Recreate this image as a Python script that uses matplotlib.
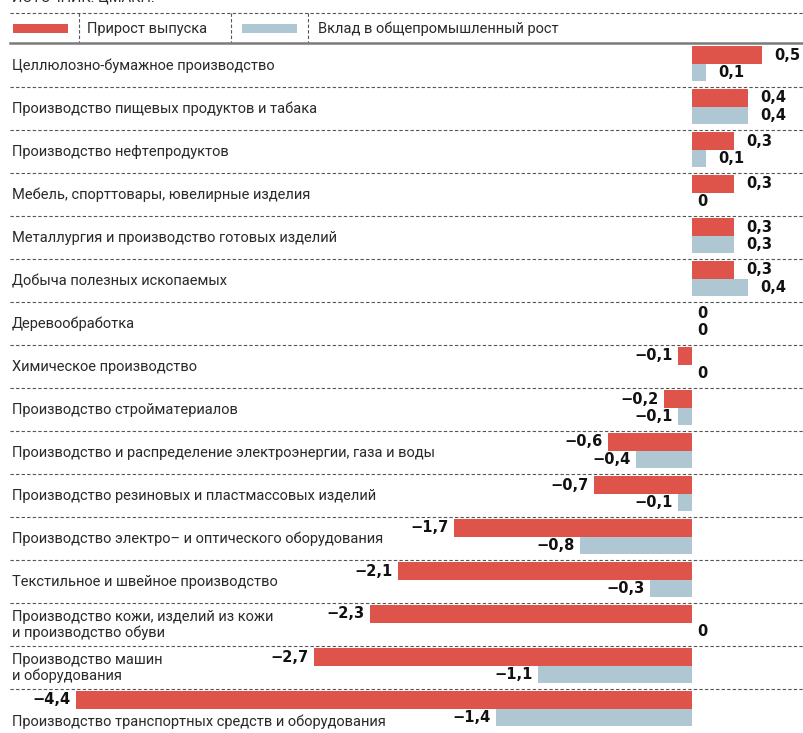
import matplotlib
matplotlib.use("Agg")
import matplotlib.pyplot as plt

# Data
categories = [
    "Целлюлозно-бумажное производство",
    "Производство пищевых продуктов и табака",
    "Производство нефтепродуктов",
    "Мебель, спорттовары, ювелирные изделия",
    "Металлургия и производство готовых изделий",
    "Добыча полезных ископаемых",
    "Деревообработка",
    "Химическое производство",
    "Производство стройматериалов",
    "Производство и распределение электроэнергии, газа и воды",
    "Производство резиновых и пластмассовых изделий",
    "Производство электро– и оптического оборудования",
    "Текстильное и швейное производство",
    "Производство кожи, изделий из кожи\nи производство обуви",
    "Производство машин\nи оборудования",
    "Производство транспортных средств и оборудования",
]
growth = [0.5, 0.4, 0.3, 0.3, 0.3, 0.3, 0, -0.1, -0.2, -0.6, -0.7, -1.7, -2.1, -2.3, -2.7, -4.4]
contrib = [0.1, 0.4, 0.1, 0, 0.3, 0.4, 0, 0, -0.1, -0.4, -0.1, -0.8, -0.3, 0, -1.1, -1.4]
legend_labels = ["Прирост выпуска", "Вклад в общепромышленный рост"]
source = "ИСТОЧНИК: ЦМАКП."

RED = "#df544a"
BLUE = "#afc6d3"
TXT = "#2a2a2a"
W, H = 804, 733
X0 = 692          # pixel position of zero
PPU = 140         # pixels per unit

plt.rcParams["font.family"] = ["Roboto", "DejaVu Sans"]

fig = plt.figure(figsize=(W / 100, H / 100), dpi=100)
ax = fig.add_axes([0, 0, 1, 1])
ax.set_xlim(-X0 / PPU, (W - X0) / PPU)
ax.set_ylim(H, 0)
ax.axis("off")


def fmt(v):
    if v == 0:
        return "0"
    s = f"{abs(v):.1f}".replace(".", ",")
    return ("−" if v < 0 else "") + s


def px(x):
    # pixel x -> data x
    return (x - X0) / PPU


# source line (cut off at top, as in the original)
ax.text(px(12), 5, source, fontsize=10.5, color=TXT, va="bottom", ha="left")

# legend
ax.plot([px(10), px(W)], [13, 13], color="#555555", lw=0.8, ls=(0, (3, 2)))
ax.plot([px(10), px(W)], [42.5, 42.5], color="#7a7a7a", lw=1.8)
for xv in (79, 231, 308):
    ax.plot([px(xv), px(xv)], [13, 42], color="#555555", lw=0.8, ls=(0, (3, 2)))
ax.add_patch(plt.Rectangle((px(13), 24), 55 / PPU, 9, color=RED, lw=0))
ax.add_patch(plt.Rectangle((px(242), 24), 55 / PPU, 9, color=BLUE, lw=0))
ax.text(px(87), 29, legend_labels[0], fontsize=10.5, color=TXT, va="center")
ax.text(px(318), 29, legend_labels[1], fontsize=10.5, color=TXT, va="center")

row_h = 43
bar_h = 17.5
vfont = dict(fontsize=10.5, fontweight="heavy", family="DejaVu Sans", color="#111111", va="center")

for i, (name, g, c) in enumerate(zip(categories, growth, contrib)):
    top = 45 + row_h * i
    yr = top + 10
    yb = top + 27.5
    if i > 0:
        ax.plot([px(10), px(W)], [top - 1, top - 1], color="#555555", lw=0.8, ls=(0, (3, 2)))
    ax.barh(yr, g, height=bar_h, left=0, color=RED, lw=0)
    ax.barh(yb, c, height=bar_h, left=0, color=BLUE, lw=0)

    for v, y in ((g, yr), (c, yb)):
        if v > 0:
            ax.annotate(fmt(v), (v, y), xytext=(12, 0), textcoords="offset pixels", ha="left", **vfont)
        elif v < 0:
            ax.annotate(fmt(v), (v, y), xytext=(-5, 0), textcoords="offset pixels", ha="right", **vfont)
        else:
            ax.annotate(fmt(v), (0, y), xytext=(5, 0), textcoords="offset pixels", ha="left", **vfont)

    if i == len(categories) - 1:
        ty = top + 32
    else:
        ty = top + 21
    ax.text(px(12), ty, name, fontsize=10.5, color=TXT, va="center", ha="left", linespacing=1.2)

fig.savefig("out.png", dpi=100)
